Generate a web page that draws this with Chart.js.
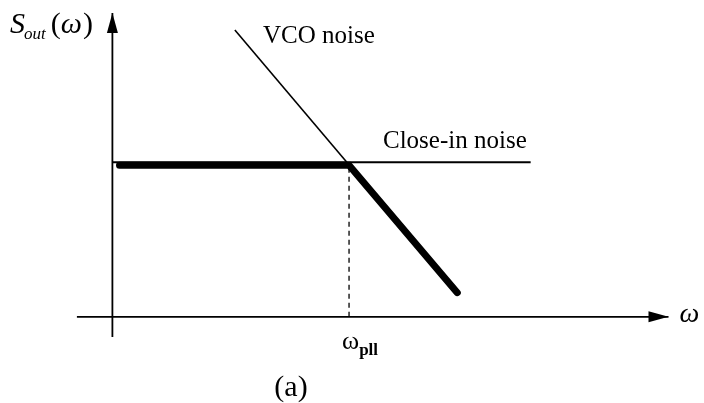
<!DOCTYPE html>
<html>
<head>
<meta charset="utf-8">
<script src="https://cdn.jsdelivr.net/npm/chart.js@4"></script>
<style>
  html, body { margin: 0; padding: 0; background: #fff; }
  #wrap { width: 704px; height: 403px; }
</style>
</head>
<body>
<div id="wrap"><canvas id="noiseChart" width="704" height="403"></canvas></div>
<script>
// loop corner and noise levels (arbitrary units)
const omegaPll = 4;
const closeInLevel = 2.62;
const outputLevel = 2.57;

// asymptotes
const vcoNoise = [{ x: 2.07, y: 4.86 }, { x: 5.83, y: 0.41 }];
const closeInNoise = [{ x: 0, y: closeInLevel }, { x: 7.07, y: closeInLevel }];
// resulting output spectrum (bold)
const outputNoise = [{ x: 0.12, y: outputLevel }, { x: omegaPll, y: outputLevel }, { x: 5.83, y: 0.41 }];
const cornerMark = [{ x: omegaPll, y: 0 }, { x: omegaPll, y: outputLevel }];

// axes
const xAxisLine = [{ x: -0.6, y: 0 }, { x: 9.4, y: 0 }];
const yAxisLine = [{ x: 0, y: -0.34 }, { x: 0, y: 5.15 }];

const arrowHeads = {
    id: 'arrowHeads',
    afterDatasetsDraw(chart) {
        const ctx = chart.ctx;
        chart.data.datasets.forEach((ds, i) => {
            if (!ds.arrow) return;
            const pts = chart.getDatasetMeta(i).data;
            const a = pts[pts.length - 2], b = pts[pts.length - 1];
            const ang = Math.atan2(b.y - a.y, b.x - a.x);
            const len = 20, half = 5.5;
            ctx.save();
            ctx.translate(b.x, b.y);
            ctx.rotate(ang);
            ctx.beginPath();
            ctx.moveTo(0, 0);
            ctx.lineTo(-len, -half);
            ctx.lineTo(-len, half);
            ctx.closePath();
            ctx.fillStyle = '#000';
            ctx.fill();
            ctx.restore();
        });
    }
};

const labels = {
    id: 'labels',
    afterDraw(chart) {
        const ctx = chart.ctx;
        const xs = chart.scales.x, ys = chart.scales.y;
        const serif = '"Liberation Serif", "Times New Roman", serif';
        ctx.save();
        ctx.fillStyle = '#000';
        ctx.textBaseline = 'alphabetic';
        ctx.textAlign = 'left';

        // S_out(ω)
        let x = 10;
        ctx.font = 'italic 30px ' + serif;
        ctx.fillText('S', x, 33);
        x += ctx.measureText('S').width - 1;
        ctx.font = 'italic 17px ' + serif;
        ctx.fillText('out', x, 39);
        x += ctx.measureText('out').width + 5;
        ctx.font = '30px ' + serif;
        ctx.fillText('(', x, 33);
        x += ctx.measureText('(').width;
        ctx.font = 'italic 30px ' + serif;
        ctx.fillText('ω', x, 33);
        x += ctx.measureText('ω').width + 1;
        ctx.font = '30px ' + serif;
        ctx.fillText(')', x, 33);

        ctx.font = '25px ' + serif;
        ctx.fillText('VCO noise', 263, 43);
        ctx.fillText('Close-in noise', 383, 148);

        // frequency axis label
        ctx.font = 'italic 28px ' + serif;
        ctx.fillText('ω', xs.getPixelForValue(9.4) + 11, ys.getPixelForValue(0) + 5);

        // ω_pll under the corner
        const cx = xs.getPixelForValue(omegaPll);
        ctx.font = '26px ' + serif;
        ctx.fillText('ω', cx - 7, 349);
        const w = ctx.measureText('ω').width;
        ctx.font = 'bold 17px ' + serif;
        ctx.fillText('pll', cx - 7 + w, 355);

        ctx.font = '30px ' + serif;
        ctx.textAlign = 'center';
        ctx.fillText('(a)', 291, 396);
        ctx.restore();
    }
};

const line = (data, extra) => Object.assign({
    data: data,
    showLine: true,
    borderColor: '#000',
    borderWidth: 1.8,
    pointRadius: 0,
    tension: 0,
    fill: false,
    clip: false
}, extra);

new Chart(document.getElementById('noiseChart'), {
    type: 'scatter',
    data: {
        datasets: [
            line(xAxisLine, { arrow: true }),
            line(yAxisLine, { arrow: true }),
            line(closeInNoise),
            line(vcoNoise, { borderWidth: 1.6 }),
            line(cornerMark, { borderWidth: 1.3, borderDash: [5, 4] }),
            line(outputNoise, { borderWidth: 7, borderCapStyle: 'round', borderJoinStyle: 'miter' })
        ]
    },
    options: {
        responsive: false,
        animation: false,
        layout: { padding: 0 },
        plugins: {
            legend: { display: false },
            tooltip: { enabled: false }
        },
        scales: {
            x: { type: 'linear', min: -1.9, max: 10, display: false },
            y: { type: 'linear', min: -1.46, max: 5.37, display: false }
        }
    },
    plugins: [arrowHeads, labels]
});
</script>
</body>
</html>
